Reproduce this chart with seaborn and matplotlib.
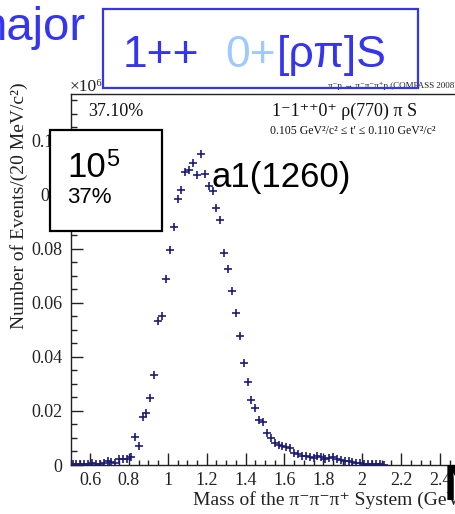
import numpy as np
import pandas as pd
import matplotlib
matplotlib.use("Agg")
import matplotlib.pyplot as plt
from matplotlib.patches import Rectangle
from matplotlib.ticker import MultipleLocator, FixedLocator, FixedFormatter
import seaborn as sns

# ---- data ----
mass = [0.51, 0.53, 0.55, 0.57, 0.59, 0.61, 0.63, 0.65, 0.67, 0.69, 0.71, 0.73,
        0.75, 0.77, 0.79, 0.81, 0.83, 0.85, 0.87, 0.89, 0.91, 0.93, 0.95, 0.97,
        0.99, 1.01, 1.03, 1.05, 1.07, 1.09, 1.11, 1.13, 1.15, 1.17, 1.19, 1.21,
        1.23, 1.25, 1.27, 1.29, 1.31, 1.33, 1.35, 1.37, 1.39, 1.41, 1.43, 1.45,
        1.47, 1.49, 1.51, 1.53, 1.55, 1.57, 1.59, 1.61, 1.63, 1.65, 1.67, 1.69,
        1.71, 1.73, 1.75, 1.77, 1.79, 1.81, 1.83, 1.85, 1.87, 1.89, 1.91, 1.93,
        1.95, 1.97, 1.99, 2.01, 2.03, 2.05, 2.07, 2.09, 2.11]
events = [0.0002, 0.0003, 0.0002, 0.0004, 0.0005, 0.0006, 0.0004, 0.0005, 0.0008, 0.0014, 0.0010, 0.0008,
          0.0022, 0.0022, 0.0024, 0.0030, 0.0104, 0.0070, 0.0178, 0.0193, 0.0248, 0.0333, 0.0533, 0.0552,
          0.0689, 0.0796, 0.0881, 0.0985, 0.1019, 0.1085, 0.1093, 0.1119, 0.1074, 0.1152, 0.1078, 0.1033,
          0.1015, 0.0952, 0.0907, 0.0785, 0.0726, 0.0644, 0.0563, 0.0478, 0.0378, 0.0307, 0.0240, 0.0210,
          0.0167, 0.0160, 0.0118, 0.0100, 0.0082, 0.0074, 0.0070, 0.0067, 0.0064, 0.0044, 0.0041, 0.0035,
          0.0035, 0.0030, 0.0026, 0.0033, 0.0028, 0.0022, 0.0026, 0.0028, 0.0022, 0.0018, 0.0016, 0.0014,
          0.0010, 0.0007, 0.0007, 0.0005, 0.0004, 0.0003, 0.0002, 0.0002, 0.0001]

xtick_vals = [0.6, 0.8, 1.0, 1.2, 1.4, 1.6, 1.8, 2.0, 2.2, 2.4]
xtick_labels = ["0.6", "0.8", "1", "1.2", "1.4", "1.6", "1.8", "2", "2.2", "2.4"]
ytick_vals = [0, 0.02, 0.04, 0.06, 0.08, 0.10, 0.12]
ytick_labels = ["0", "0.02", "0.04", "0.06", "0.08", "0.1", "0.12"]

df = pd.DataFrame({"mass": mass, "events": events})

W, H = 456, 514
def fx(px): return px / W
def fy(py): return 1 - py / H

plt.rcParams["font.family"] = ["Liberation Serif", "DejaVu Serif"]

fig = plt.figure(figsize=(W / 100, H / 100), dpi=100)
ax = fig.add_axes([fx(70.6), fy(465), 388.8 / W, 371 / H])

sns.scatterplot(data=df, x="mass", y="events", marker="+", s=28,
                color="#1c1c78", linewidth=1.2, ax=ax, legend=False, zorder=3)

ax.set_xlim(0.5, 2.5)
ax.set_ylim(0, 0.1374)
ax.xaxis.set_major_locator(FixedLocator(xtick_vals))
ax.xaxis.set_major_formatter(FixedFormatter(xtick_labels))
ax.yaxis.set_major_locator(FixedLocator(ytick_vals))
ax.yaxis.set_major_formatter(FixedFormatter(ytick_labels))
ax.xaxis.set_minor_locator(MultipleLocator(0.05))
ax.yaxis.set_minor_locator(MultipleLocator(0.005))
ax.tick_params(which="both", direction="in", colors="#222222", labelsize=13)
ax.tick_params(axis="x", which="major", length=8.5, width=1.0, pad=5)
ax.tick_params(axis="x", which="minor", length=3.5, width=1.0)
ax.tick_params(axis="y", which="major", length=8.5, width=1.0, pad=6)
ax.tick_params(axis="y", which="minor", length=4.5, width=1.0)
for s in ax.spines.values():
    s.set_color("#222222")
    s.set_linewidth(1.0)
ax.set_xlabel("")
ax.set_ylabel("")

# axis titles
fig.text(fx(19), fy(206), "Number of Events/(20 MeV/c²)", rotation=90,
         ha="center", va="center", fontsize=14, color="#222222")
fig.text(fx(193), fy(505), "Mass of the π⁻π⁻π⁺ System (GeV/c²)",
         ha="left", va="baseline", fontsize=14, color="#222222")

# ROOT annotations
fig.text(fx(70), fy(91), "×10⁶", ha="left", va="baseline", fontsize=12.5, color="#222222")
fig.text(fx(457), fy(88), "π⁻p → π⁻π⁻π⁺p (COMPASS 2008)", ha="right", va="baseline",
         fontsize=6.5, color="#222222")
fig.text(fx(88), fy(116), "37.10%", ha="left", va="baseline", fontsize=13, color="#111111")
fig.text(fx(272), fy(116), "1⁻1⁺⁺0⁺ ρ(770) π S", ha="left", va="baseline", fontsize=13,
         color="#111111")
fig.text(fx(270), fy(134), "0.105 GeV²/c² ≤ t' ≤ 0.110 GeV²/c²", ha="left", va="baseline",
         fontsize=8.5, color="#111111")

# slide overlays
blue = "#3535f0"
light = "#9fcaff"
sans = ["Liberation Sans", "DejaVu Sans"]
fig.text(fx(86), fy(40), "major", ha="right", va="baseline", fontsize=34, color=blue, family=sans)
fig.patches.append(Rectangle((fx(103), fy(88)), (418 - 103) / W, (88 - 9) / H,
                             transform=fig.transFigure, fill=False, edgecolor=blue,
                             linewidth=1.6, zorder=5))
fig.text(fx(123), fy(67), "1++", ha="left", va="baseline", fontsize=32, color=blue, family=sans, zorder=6)
fig.text(fx(225), fy(67), "0+", ha="left", va="baseline", fontsize=32, color=light, family=sans, zorder=6)
fig.text(fx(277), fy(67), "[ρπ]S", ha="left", va="baseline", fontsize=32, color=blue, family=sans, zorder=6)

fig.patches.append(Rectangle((fx(50), fy(231)), (162 - 50) / W, (231 - 130) / H,
                             transform=fig.transFigure, facecolor="white", edgecolor="black",
                             linewidth=1.6, zorder=5))
fig.text(fx(67), fy(177), "10", ha="left", va="baseline", fontsize=25, color="black", family=sans, zorder=6)
fig.text(fx(106), fy(166), "5", ha="left", va="baseline", fontsize=17, color="black", family=sans, zorder=6)
fig.text(fx(67), fy(203), "37%", ha="left", va="baseline", fontsize=16, color="black", family=sans, zorder=6)

fig.text(fx(212), fy(187), "a1(1260)", ha="left", va="baseline", fontsize=25, color="black", family=sans, zorder=6)
fig.text(fx(444), fy(500), "N", ha="left", va="baseline", fontsize=36, color="black",
         family=sans, fontweight="bold", zorder=6)

fig.savefig("out.png", dpi=100)
